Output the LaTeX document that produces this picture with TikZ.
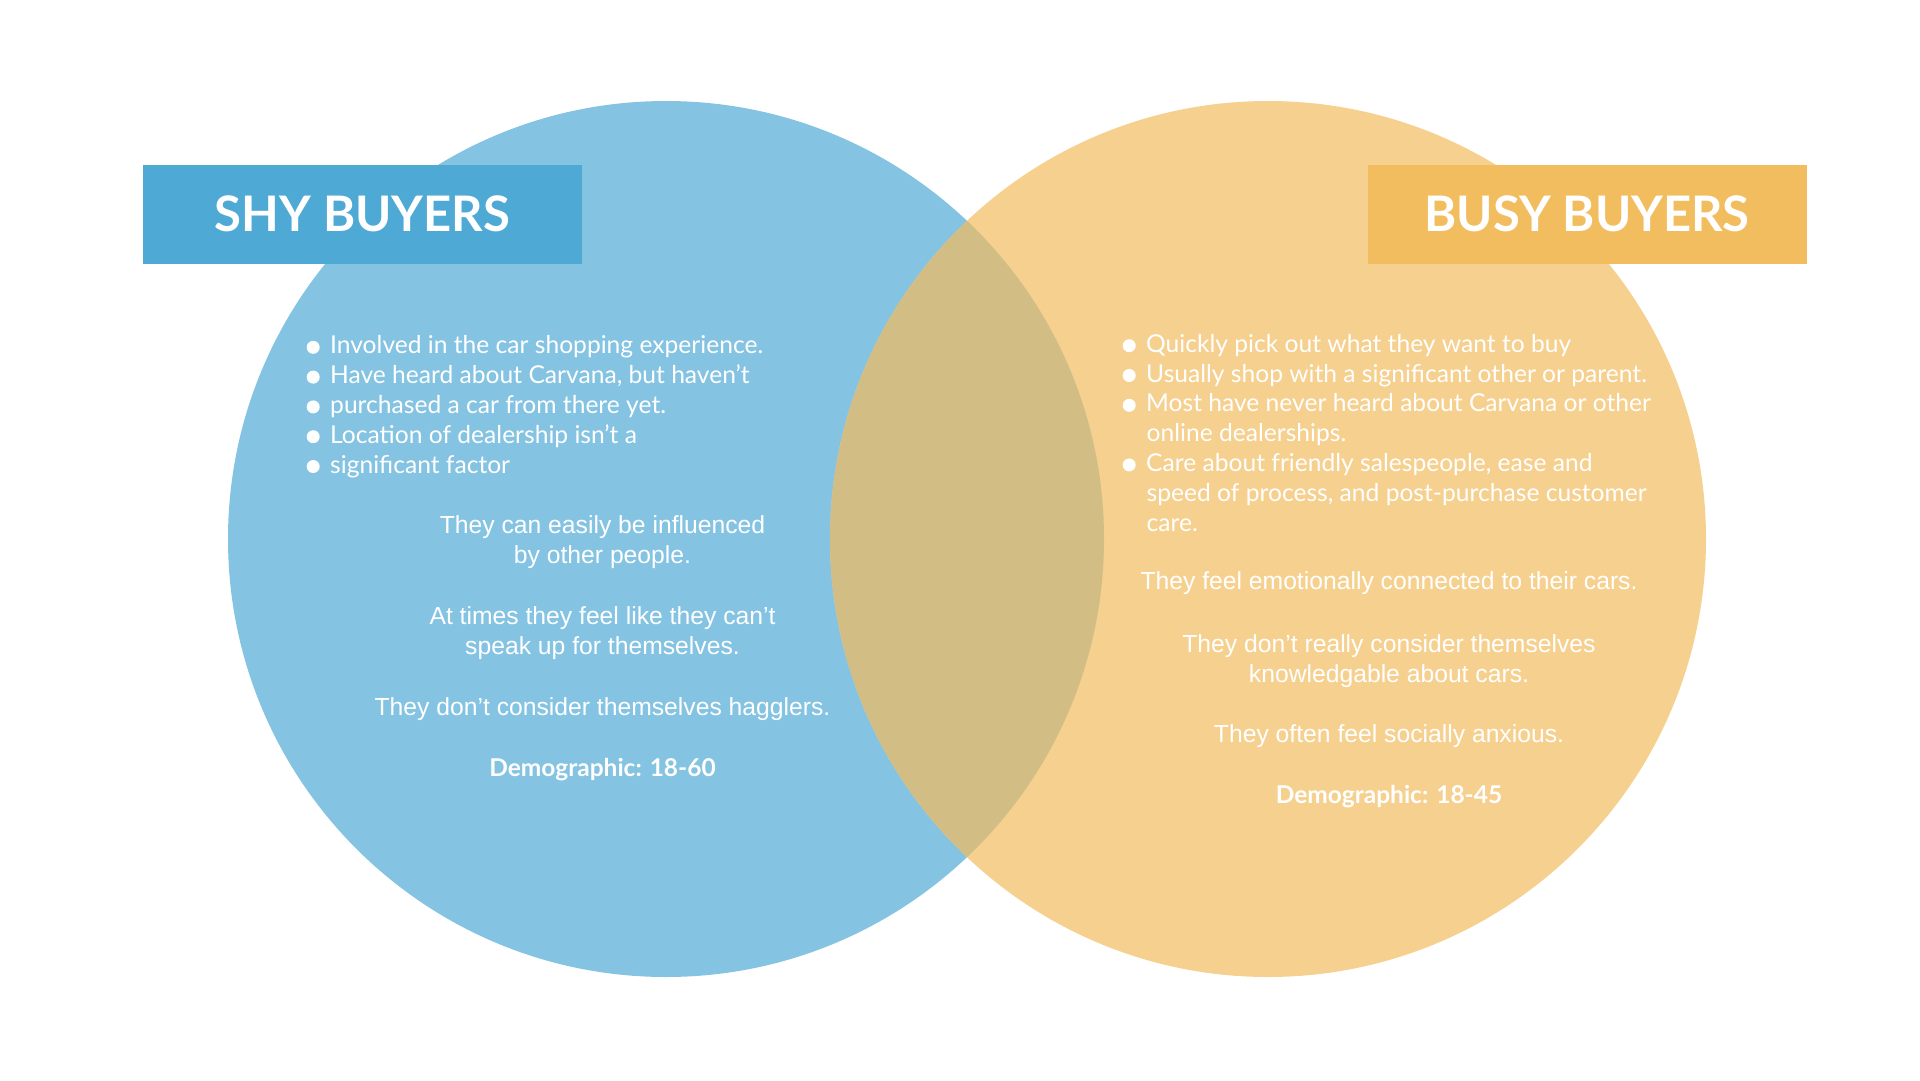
\documentclass[tikz,border=0pt]{standalone}
\usepackage{fontspec}
\setmainfont{Lato}
\newfontfamily\parafont{Liberation Sans}

\definecolor{shyblue}{HTML}{84C3E2}
\definecolor{shydark}{HTML}{4FA9D5}
\definecolor{busyorange}{HTML}{F6D08F}
\definecolor{busydark}{HTML}{F2BD5E}
\definecolor{overlapcol}{HTML}{D2BD85}

\newcommand{\bul}{\tikz[baseline=-6.5pt]\fill[white] (0,0) circle (6.5pt);\hspace{10.5pt}}

\begin{document}
\begin{tikzpicture}[x=1pt, y=-1pt,
    titlebox/.style={minimum width=439pt, minimum height=99pt, inner sep=0pt,
        text=white, font=\fontsize{49}{49}\selectfont\bfseries},
    bulletlist/.style={align=left, inner sep=0pt, text=white,
        font=\fontsize{24.6}{29.8}\selectfont},
    para/.style={align=center, inner sep=0pt, text=white,
        font=\parafont\fontsize{24.7}{30}\selectfont},
    demo/.style={inner sep=0pt, text=white, font=\fontsize{24.5}{30}\selectfont\bfseries}]
    % Define circle parameters
    \pgfmathsetmacro{\rad}{438}   % radius
    \pgfmathsetmacro{\lx}{666}    % centre of left circle
    \pgfmathsetmacro{\rx}{1268}   % centre of right circle
    \pgfmathsetmacro{\cy}{539}

    \useasboundingbox (0,0) rectangle (1920,1080);

    % Draw the two circles
    \fill[shyblue] (\lx,\cy) circle (\rad);
    \fill[busyorange] (\rx,\cy) circle (\rad);

    % Draw the overlap
    \begin{scope}
        \clip (\lx,\cy) circle (\rad);
        \fill[overlapcol] (\rx,\cy) circle (\rad);
    \end{scope}

    % Title boxes
    \node[titlebox, fill=shydark] (shytitle) at (362.5,214) {SHY BUYERS};
    \node[titlebox, fill=busydark] (busytitle) at (1587,214) {BUSY BUYERS};

    % Shy buyers (base = last line)
    \node[bulletlist, anchor=base west] (shylist) at (306.5,473) {%
        \bul Involved in the car shopping experience.\\
        \bul Have heard about Carvana, but haven’t\\
        \bul purchased a car from there yet.\\
        \bul Location of dealership isn’t a\\
        \bul significant factor};
    \node[para, anchor=base] (shyinfl) at (602.5,563) {They can easily be influenced\\by other people.};
    \node[para, anchor=base] (shyspeak) at (602.5,654) {At times they feel like they can’t\\speak up for themselves.};
    \node[para, anchor=base] (shyhaggle) at (602.5,715) {They don’t consider themselves hagglers.};
    \node[demo, anchor=base] (shydemo) at (602.5,776) {Demographic: 18-60};

    % Busy buyers
    \node[bulletlist, anchor=base west] (busylist) at (1122.5,531) {%
        \bul Quickly pick out what they want to buy\\
        \bul Usually shop with a significant other or parent.\\
        \bul Most have never heard about Carvana or other\\
        \hspace*{24pt}online dealerships.\\
        \bul Care about friendly salespeople, ease and\\
        \hspace*{24pt}speed of process, and post-purchase customer\\
        \hspace*{24pt}care.};
    \node[para, anchor=base] (busyemo) at (1389,589.5) {They feel emotionally connected to their cars.};
    \node[para, anchor=base] (busyknow) at (1389,682) {They don’t really consider themselves\\knowledgable about cars.};
    \node[para, anchor=base] (busyanx) at (1389,742) {They often feel socially anxious.};
    \node[demo, anchor=base] (busydemo) at (1389,803) {Demographic: 18-45};
\end{tikzpicture}
\end{document}
